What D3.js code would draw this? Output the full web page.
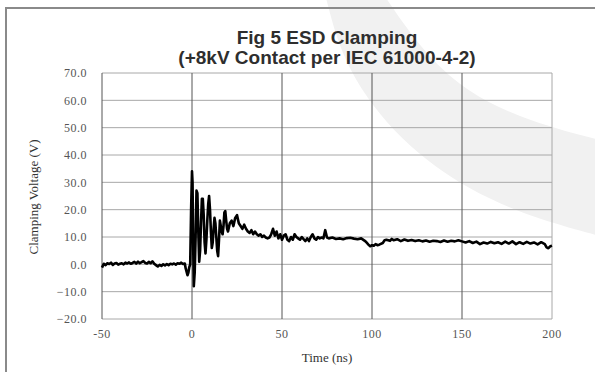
<!DOCTYPE html>
<html>
<head>
<meta charset="utf-8">
<script src="https://cdn.jsdelivr.net/npm/d3@7"></script>
<style>
  html, body { margin: 0; padding: 0; background: #fff; }
  svg { display: block; }
</style>
</head>
<body>
<div id="chart"></div>
<script>
let width = 595
let height = 372

// chart data
const titleLines = ["Fig 5 ESD Clamping", "(+8kV Contact per IEC 61000-4-2)"]
const xTicks = [-50, 0, 50, 100, 150, 200]
const yTicks = [-20, -10, 0, 10, 20, 30, 40, 50, 60, 70]

const timeNs = [
  -50,-49,-48,-47,-46,-45,-44,-43,-42,-41,-40,-39,-38,-37,-36,-35,-34,-33,-32,-31,
  -30,-29,-28,-27,-26,-25,-24,-23,-22,-21,-20,-19,-18,-17,-16,-15,-14,-13,-12,-11,
  -10,-9,-8,-7,-6,-5,-4,-3.5,-2.5,-2,-1.5,-1,-0.5,0,0.3,0.6,1,1.5,2,2.5,3,3.5,4,4.5,
  5,5.5,6,6.5,7,7.5,8,8.5,9,9.5,10,10.5,11,11.5,12,12.5,13,13.5,14,14.5,15,15.5,16,
  16.5,17,17.5,18,18.5,19,19.5,20,21,22,23,24,25,26,27,28,29,30,31,32,33,34,35,36,
  37,38,39,40,41,42,43,44,45,46,47,48,49,50,51,52,53,54,55,56,57,58,59,60,61,62,63,
  64,65,66,67,68,69,70,71,72,73,74,75,76,78,80,82,84,86,88,90,92,94,96,97,98,99,100,
  101,102,103,104,106,107,108,110,111,112,114,116,118,120,122,124,126,128,130,132,
  134,136,138,140,142,144,146,148,150,152,154,156,158,160,162,164,166,168,170,172,
  174,176,178,180,182,184,186,188,190,192,194,196,197,198,199,200
]
const clampV = [
  -1.2,0.2,-0.3,0.4,0.1,0.6,-0.2,0.3,0.5,-0.1,0.2,0.4,0.0,0.6,0.3,0.7,0.2,0.5,0.9,0.3,
  1.0,0.4,0.8,1.2,0.5,0.3,0.9,0.4,1.1,0.2,-0.3,-0.8,-0.2,-0.6,0.0,-0.4,0.1,-0.3,0.2,0.0,
  0.3,-0.1,0.4,0.2,0.6,0.1,0.3,-1.5,-4.0,-3,-1,0,20,34,30,10,-8,-3,10,27,26,12,1,5,
  15,24,24,18,8,4,9,16,22,25,20,12,6,8,13,17,15,10,5,3,9,16,14,
  12,11,14,19,19.5,16,13,12,15,16,14,17,18,15,14,13,14.5,13,12,11.5,12.5,11,12,11,
  10.5,11,10,10.5,9.8,9.5,9.8,11,13,10.5,12,9.5,11,9,10.5,11,9,8.5,10,9,11,10,9.5,9,10,9.2,8.5,
  9.5,8.5,10,11,9.5,9,10,9.5,9.8,9.5,12.5,9.8,9.5,9.8,9.3,9.5,9.2,9.6,9.7,9.4,9.2,9.5,8.6,8,7.2,6.6,7,
  6.8,7.4,7,7.2,7.8,8.8,9,8.6,9.3,8.8,9.2,8.5,9.1,8.6,8.9,8.5,8.8,8.4,8.7,8.3,
  8.6,8.5,8.2,8.7,8.3,8.6,8.4,8.8,8.4,8.0,8.5,7.8,8.3,7.4,8.0,7.6,8.2,7.7,8.1,7.5,
  8.3,7.6,8.4,7.4,8.1,7.5,8.2,7.6,8.0,7.3,8.1,7.4,6.2,5.9,6.6,6.8
]

let margin = { left: 102, right: 43, top: 73, bottom: 53 }

let svg = d3.select("#chart")
  .append("svg")
  .attr("width", width)
  .attr("height", height)

// faint watermark swoosh behind the chart
let swoosh = d3.line().curve(d3.curveBasis)
let inner = [[326, -2], [345, 70], [400, 142], [470, 192], [540, 220], [600, 236]]
let outer = [[600, 140], [530, 122], [465, 92], [420, 48], [386, -2]]
svg.append("path")
  .attr("d", swoosh(inner) + "L" + swoosh(outer).slice(1) + "Z")
  .attr("fill", "#f1f1f1")

// outer frame (left + top only)
svg.append("path")
  .attr("d", `M6,${height} V8 H${width}`)
  .attr("fill", "none")
  .attr("stroke", "#8a8a8a")
  .attr("stroke-width", 2)

let x = d3.scaleLinear()
  .domain([-50, 200])
  .range([margin.left, width - margin.right])

let y = d3.scaleLinear()
  .domain([-20, 70])
  .range([height - margin.bottom, margin.top])

// horizontal grid
svg.append("g")
  .selectAll("line")
  .data(yTicks)
  .enter().append("line")
  .attr("x1", x(-50)).attr("x2", x(200))
  .attr("y1", d => y(d)).attr("y2", d => y(d))
  .attr("stroke", "#a8a8a8")
  .attr("stroke-width", 1)

// vertical grid
svg.append("g")
  .selectAll("line")
  .data(xTicks)
  .enter().append("line")
  .attr("x1", d => x(d)).attr("x2", d => x(d))
  .attr("y1", y(70)).attr("y2", y(-20))
  .attr("stroke", d => (d == 200 ? "#a8a8a8" : "#555"))
  .attr("stroke-width", 1)

// y tick labels
svg.append("g")
  .selectAll("text")
  .data(yTicks)
  .enter().append("text")
  .attr("x", x(-50) - 15)
  .attr("y", d => y(d))
  .attr("dy", "0.35em")
  .attr("text-anchor", "end")
  .style("font-family", "'Liberation Serif', 'DejaVu Serif', serif")
  .style("font-size", "12px")
  .style("letter-spacing", "0.5px")
  .attr("fill", "#555")
  .text(d => d3.format(".1f")(d))

// x tick labels
svg.append("g")
  .selectAll("text")
  .data(xTicks)
  .enter().append("text")
  .attr("x", d => x(d))
  .attr("y", y(-20) + 19)
  .attr("text-anchor", "middle")
  .style("font-family", "'Liberation Serif', 'DejaVu Serif', serif")
  .style("font-size", "12px")
  .style("letter-spacing", "0.5px")
  .attr("fill", "#555")
  .text(d => d)

// axis titles
svg.append("text")
  .attr("x", 327)
  .attr("y", 362)
  .attr("text-anchor", "middle")
  .style("font-family", "'Liberation Serif', serif")
  .style("font-size", "13px")
  .attr("fill", "#333")
  .text("Time (ns)")

svg.append("text")
  .attr("transform", "translate(38,197) rotate(-90)")
  .attr("text-anchor", "middle")
  .style("font-family", "'Liberation Serif', serif")
  .style("font-size", "13px")
  .attr("fill", "#333")
  .text("Clamping Voltage (V)")

// title
svg.append("g")
  .selectAll("text")
  .data(titleLines)
  .enter().append("text")
  .attr("x", 327)
  .attr("y", (d, i) => 44 + i * 20)
  .attr("text-anchor", "middle")
  .style("font-family", "'Liberation Sans', Arial, sans-serif")
  .style("font-size", "19px")
  .style("font-weight", "bold")
  .attr("fill", "#2e2e2e")
  .text(d => d)

// the clamping trace
let line = d3.line()
  .x(d => x(d[0]))
  .y(d => y(d[1]))

svg.append("path")
  .datum(d3.zip(timeNs, clampV))
  .attr("d", line)
  .attr("fill", "none")
  .attr("stroke", "#000")
  .attr("stroke-width", 2.6)
  .attr("stroke-linejoin", "round")
</script>
</body>
</html>
